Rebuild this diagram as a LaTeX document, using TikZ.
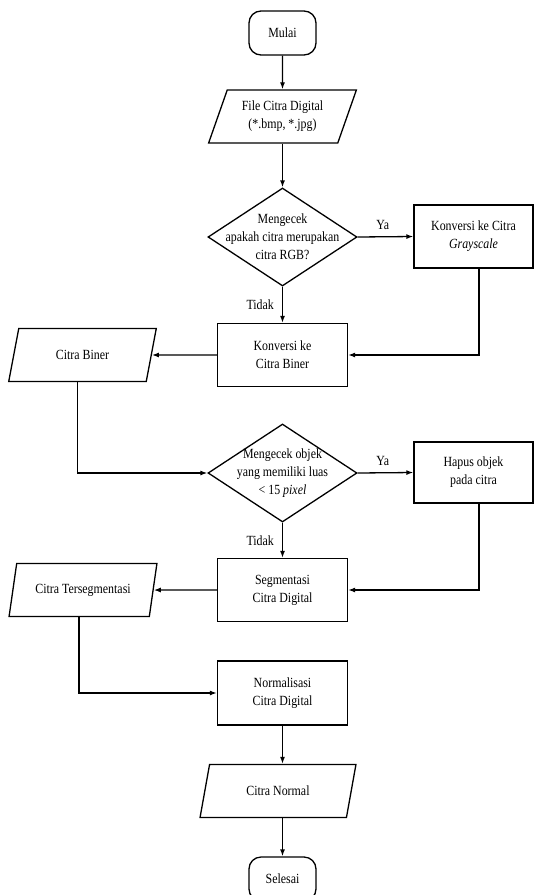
\documentclass[tikz,border=0pt]{standalone}
\usepackage{fontspec}
\setmainfont{Liberation Serif}[FakeStretch=0.85]
\usetikzlibrary{shapes.geometric,arrows.meta}
\begin{document}
\begin{tikzpicture}[x=1pt,y=-1pt,
  font=\fontsize{14}{18}\selectfont,
  line width=1.3pt,
  every node/.style={align=center},
  terminal/.style={draw, rounded corners=12pt, minimum width=67pt, minimum height=44pt, inner sep=0pt},
  process/.style={draw, rectangle, minimum width=130pt, minimum height=63pt, inner sep=0pt},
  sideproc/.style={draw, rectangle, minimum width=119pt, minimum height=63pt, inner sep=0pt},
  io/.style={draw, trapezium, trapezium left angle=66, trapezium right angle=114, trapezium stretches=true, minimum width=148pt, minimum height=53pt, inner sep=0pt},
  decision/.style={draw, diamond, minimum width=149pt, minimum height=98pt, inner sep=0pt},
  arrow/.style={-{Latex[length=7pt,width=5pt]}},
  lbl/.style={inner sep=2pt}
]
\useasboundingbox (0,0) rectangle (534,895);

\node[terminal] (mulai) at (282.5,33) {Mulai};
\node[io] (file) at (282.5,116.5) {File Citra Digital\\(*.bmp, *.jpg)};
\node[decision] (d1) at (282.5,237) {};
\node (d1t) at (d1) {Mengecek\\apakah citra merupakan\\citra RGB?};
\node[sideproc] (gray) at (473.5,236.5) {Konversi ke Citra\\\textit{Grayscale}};
\node[process] (kb) at (282.5,355) {Konversi ke\\Citra Biner};
\node[io] (cb) at (82.5,355) {Citra Biner};
\node[decision] (d2) at (282.5,473) {};
\node (d2t) at (d2) {Mengecek objek\\yang memiliki luas\\< 15 \textit{pixel}};
\node[sideproc, minimum height=61pt] (hapus) at (473.5,472.5) {Hapus objek\\pada citra};
\node[process] (seg) at (282.5,590) {Segmentasi\\Citra Digital};
\node[io] (ct) at (83,590) {Citra Tersegmentasi};
\node[process, minimum height=64pt] (norm) at (282.5,693) {Normalisasi\\Citra Digital};
\node[io, minimum width=156pt] (cn) at (278,791) {Citra Normal};
\node[terminal] (selesai) at (282.5,879) {Selesai};

\draw[arrow] (mulai) -- (file);
\draw[arrow] (file.south -| mulai) -- (d1.north);
\draw[arrow] (d1.east) -- node[above, lbl, yshift=4pt, pos=0.45]{Ya} (gray.west);
\draw[arrow] (d1.south) -- node[left, lbl, xshift=-6pt]{Tidak} (kb.north);
\draw[arrow] ([xshift=5.5pt]gray.south) |- (kb.east);
\draw[arrow] (kb.west) -- (cb.east);
\draw[arrow] (cb.bottom side) |- (d2.west);
\draw[arrow] (d2.east) -- node[above, lbl, yshift=4pt, pos=0.45]{Ya} (hapus.west);
\draw[arrow] (d2.south) -- node[left, lbl, xshift=-6pt]{Tidak} (seg.north);
\draw[arrow] ([xshift=5.5pt]hapus.south) |- (seg.east);
\draw[arrow] (seg.west) -- (ct.east);
\draw[arrow] (ct.bottom side) |- (norm.west);
\draw[arrow] (norm.south) -- (norm.south |- cn.north);
\draw[arrow] (norm.south |- cn.south) -- (selesai.north);
\end{tikzpicture}
\end{document}
